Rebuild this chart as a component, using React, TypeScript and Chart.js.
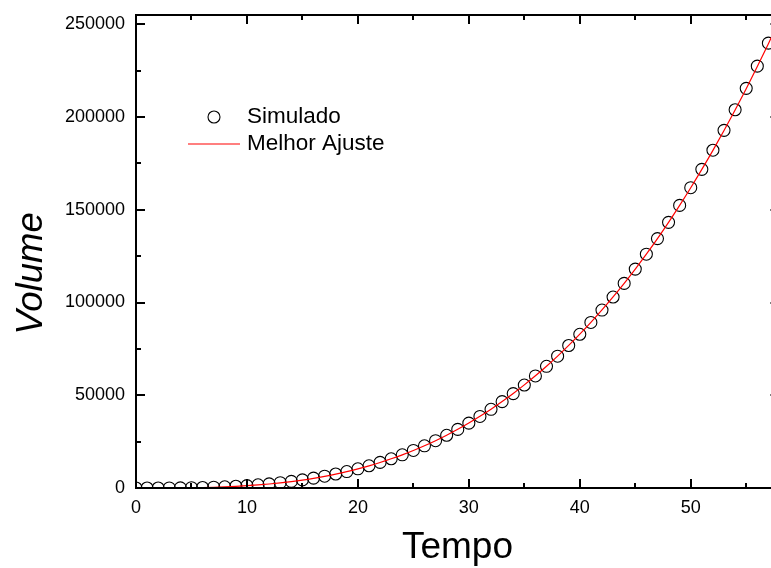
import { useEffect, useRef } from 'react';
import { Chart, registerables } from 'chart.js';

Chart.register(...registerables);

// ---- Data ----
const tempo = [
  0, 1, 2, 3, 4, 5, 6, 7, 8, 9,
  10, 11, 12, 13, 14, 15, 16, 17, 18, 19,
  20, 21, 22, 23, 24, 25, 26, 27, 28, 29,
  30, 31, 32, 33, 34, 35, 36, 37, 38, 39,
  40, 41, 42, 43, 44, 45, 46, 47, 48, 49,
  50, 51, 52, 53, 54, 55, 56, 57,
];

const simulado = [
  0, 0, 10, 40, 80, 160, 280, 440, 660, 940,
  1300, 1720, 2240, 2850, 3550, 4370, 5300, 6360, 7550, 8880,
  10360, 11990, 13790, 15760, 17900, 20230, 22760, 25490, 28430, 31580,
  34970, 38580, 42440, 46540, 50900, 55520, 60420, 65600, 71060, 76820,
  82880, 89250, 95940, 102960, 110310, 118010, 126050, 134450, 143220, 152360,
  161880, 171780, 182090, 192800, 203920, 215460, 227420, 239830,
];

const ajusteTempo = [
  0, 1, 2, 3, 4, 5, 6, 7, 8, 9,
  10, 11, 12, 13, 14, 15, 16, 17, 18, 19,
  20, 21, 22, 23, 24, 25, 26, 27, 28, 29,
  30, 31, 32, 33, 34, 35, 36, 37, 38, 39,
  40, 41, 42, 43, 44, 45, 46, 47, 48, 49,
  50, 51, 52, 53, 54, 55, 56, 57, 58,
];

const ajuste = [
  0, 0, 10, 30, 70, 140, 250, 410, 620, 890,
  1230, 1650, 2160, 2760, 3470, 4290, 5230, 6290, 7490, 8820,
  10310, 11950, 13760, 15740, 17890, 20230, 22770, 25510, 28460, 31620,
  35010, 38630, 42490, 46600, 50960, 55590, 60480, 65660, 71120, 76880,
  82940, 89310, 96000, 103010, 110360, 118050, 126080, 134470, 143230, 152360,
  161860, 171750, 182030, 192710, 203790, 215290, 227210, 239560, 252340,
];

const xTickValues = [0, 10, 20, 30, 40, 50];
const yTickValues = [0, 50000, 100000, 150000, 200000, 250000];

const X_MIN = 0;
const X_MAX = 58;
const X_STEP = 10;
const X_MINOR = 5;
const Y_MIN = 0;
const Y_MAX = 255000;
const Y_STEP = 50000;
const Y_MINOR = 25000;

const seriesLabels = ['Simulado', 'Melhor Ajuste'];
const xTitle = 'Tempo';
const yTitle = 'Volume';

const FONT = '"Liberation Sans", Arial, sans-serif';

const framePlugin = {
  id: 'originFrame',
  afterDatasetsDraw(chart: any) {
    const { ctx, chartArea, scales } = chart;
    const { left, right, top, bottom } = chartArea;
    const xs = scales.x;
    const ys = scales.y;
    ctx.save();
    ctx.strokeStyle = '#000';
    ctx.lineWidth = 2;
    ctx.beginPath();
    ctx.rect(left, top, right - left, bottom - top);
    ctx.stroke();

    ctx.beginPath();
    for (let v = X_MIN; v <= X_MAX + 1e-9; v += X_MINOR) {
      const px = Math.round(xs.getPixelForValue(v));
      const len = v % X_STEP === 0 ? 9 : 5;
      ctx.moveTo(px, bottom);
      ctx.lineTo(px, bottom - len);
      ctx.moveTo(px, top);
      ctx.lineTo(px, top + len);
    }
    for (let v = Y_MIN; v <= Y_MAX + 1e-9; v += Y_MINOR) {
      const py = Math.round(ys.getPixelForValue(v));
      const len = v % Y_STEP === 0 ? 9 : 5;
      ctx.moveTo(left, py);
      ctx.lineTo(left + len, py);
      ctx.moveTo(right, py);
      ctx.lineTo(right - len, py);
    }
    ctx.stroke();
    ctx.restore();
  },
  afterDraw(chart: any) {
    const { ctx } = chart;
    ctx.save();
    // Legend
    ctx.strokeStyle = '#000';
    ctx.lineWidth = 1.1;
    ctx.beginPath();
    ctx.arc(214, 117, 6, 0, Math.PI * 2);
    ctx.stroke();
    ctx.strokeStyle = '#ff0000';
    ctx.lineWidth = 1.2;
    ctx.beginPath();
    ctx.moveTo(188, 144);
    ctx.lineTo(240, 144);
    ctx.stroke();
    ctx.fillStyle = '#000';
    ctx.font = `22.5px ${FONT}`;
    ctx.textAlign = 'left';
    ctx.textBaseline = 'middle';
    ctx.fillText(seriesLabels[0], 247, 117);
    ctx.fillText(seriesLabels[1], 247, 144);

    // Axis titles
    ctx.font = `37px ${FONT}`;
    ctx.textAlign = 'center';
    ctx.textBaseline = 'alphabetic';
    ctx.fillText(xTitle, 457.5, 558);

    ctx.translate(42, 273.5);
    ctx.rotate(-Math.PI / 2);
    ctx.font = `italic 36.5px ${FONT}`;
    ctx.fillText(yTitle, 0, 0);
    ctx.restore();
  },
};

export default function App() {
  const canvasRef = useRef<HTMLCanvasElement | null>(null);

  useEffect(() => {
    if (!canvasRef.current) return;
    Chart.defaults.font.family = FONT;
    const chart = new Chart(canvasRef.current, {
      type: 'scatter',
      data: {
        datasets: [
          {
            label: seriesLabels[1],
            data: ajusteTempo.map((t, i) => ({ x: t, y: ajuste[i] })),
            showLine: true,
            borderColor: '#ff0000',
            borderWidth: 1.2,
            pointRadius: 0,
            cubicInterpolationMode: 'monotone',
            order: 0,
            clip: 0,
          } as any,
          {
            label: seriesLabels[0],
            data: tempo.map((t, i) => ({ x: t, y: simulado[i] })),
            showLine: false,
            pointStyle: 'circle',
            pointRadius: 6,
            pointBorderWidth: 1.1,
            pointBorderColor: '#000',
            pointBackgroundColor: 'rgba(0,0,0,0)',
            borderColor: '#000',
            backgroundColor: 'rgba(0,0,0,0)',
            order: 1,
            clip: 0,
          } as any,
        ],
      },
      options: {
        responsive: false,
        devicePixelRatio: 1,
        animation: false,
        layout: { padding: { top: 15, right: 10.5, left: 0, bottom: 0 } },
        plugins: {
          legend: { display: false },
          tooltip: { enabled: false },
        },
        scales: {
          x: {
            type: 'linear',
            min: X_MIN,
            max: X_MAX,
            grid: { display: false, drawTicks: false },
            border: { display: false },
            afterBuildTicks: (s: any) => {
              s.ticks = xTickValues.map((v) => ({ value: v }));
            },
            ticks: {
              autoSkip: false,
              maxRotation: 0,
              padding: 9,
              color: '#000',
              font: { size: 18, family: FONT },
              callback: (v: any) => String(v),
            },
            afterFit: (s: any) => {
              s.height = 80;
              s.paddingLeft = 0;
              s.paddingRight = 0;
            },
          },
          y: {
            type: 'linear',
            min: Y_MIN,
            max: Y_MAX,
            grid: { display: false, drawTicks: false },
            border: { display: false },
            afterBuildTicks: (s: any) => {
              s.ticks = yTickValues.map((v) => ({ value: v }));
            },
            ticks: {
              autoSkip: false,
              padding: 11,
              color: '#000',
              font: { size: 18, family: FONT },
              callback: (v: any) => String(v),
            },
            afterFit: (s: any) => {
              s.width = 136;
              s.paddingTop = 0;
              s.paddingBottom = 0;
            },
          },
        },
      } as any,
      plugins: [framePlugin],
    });
    return () => chart.destroy();
  }, []);

  return (
    <div
      style={{
        position: 'absolute',
        left: 0,
        top: 0,
        width: 771,
        height: 568,
        overflow: 'hidden',
        background: '#fff',
      }}
    >
      <canvas
        ref={canvasRef}
        width={790}
        height={568}
        style={{ display: 'block', width: 790, height: 568 }}
      />
    </div>
  );
}
